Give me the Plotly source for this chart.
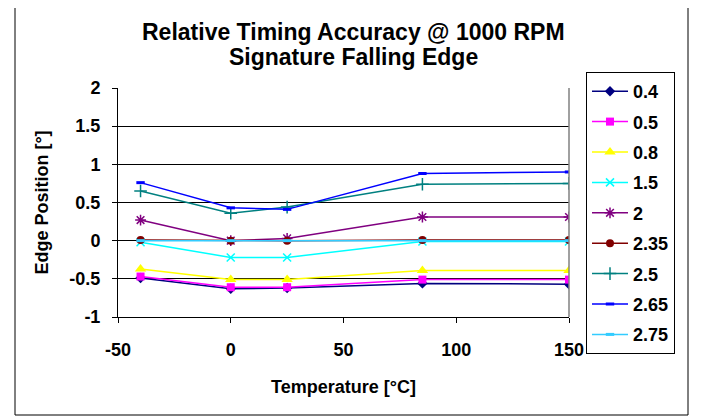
import plotly.graph_objects as go

# temperature points [°C]
temperature = [-40, 0, 25, 85, 150]

# edge position [°] per series
s_0_4 = [-0.49, -0.63, -0.62, -0.56, -0.57]
s_0_5 = [-0.47, -0.61, -0.61, -0.51, -0.51]
s_0_8 = [-0.37, -0.51, -0.51, -0.39, -0.39]
s_1_5 = [-0.02, -0.22, -0.22, -0.01, -0.01]
s_2 = [0.27, 0.0, 0.03, 0.31, 0.31]
s_2_35 = [0.01, 0.0, 0.0, 0.01, 0.01]
s_2_5 = [0.65, 0.36, 0.44, 0.74, 0.75]
s_2_65 = [0.76, 0.43, 0.41, 0.88, 0.90]
s_2_75 = [0.0, 0.0, 0.0, 0.0, 0.0]

names = ["0.4", "0.5", "0.8", "1.5", "2", "2.35", "2.5", "2.65", "2.75"]
values = [s_0_4, s_0_5, s_0_8, s_1_5, s_2, s_2_35, s_2_5, s_2_65, s_2_75]

x_ticks = [-50, 0, 50, 100, 150]
y_ticks = [-1, -0.5, 0, 0.5, 1, 1.5, 2]

title_lines = ["Relative Timing Accuracy @ 1000 RPM", "Signature Falling Edge"]

# (color, symbol, size, marker line width)
styles = [
    ("#000080", "diamond", 8, 0),
    ("#FF00FF", "square", 8, 0),
    ("#FFFF00", "triangle-up", 10, 0),
    ("#00FFFF", "x-thin-open", 8, 1.5),
    ("#800080", "asterisk-open", 9, 1.5),
    ("#800000", "circle", 8, 0),
    ("#008080", "cross-thin-open", 9, 1.5),
    ("#0000FF", "line-ew-open", 6, 3),
    ("#33CCFF", "line-ew-open", 6, 3),
]

font = "Liberation Sans, Arial, sans-serif"

fig = go.Figure()
for name, ys, (color, symbol, size, lw) in zip(names, values, styles):
    fig.add_trace(
        go.Scatter(
            x=temperature,
            y=ys,
            name="<b>" + name + "</b>",
            legendgroup=name,
            mode="lines+markers",
            line=dict(color=color, width=1.5),
            marker=dict(
                symbol=symbol,
                size=size,
                color=color,
                line=dict(color=color, width=lw),
            ),
        )
    )

# two title lines as annotations so the line spacing can be set
for text, ypix in zip(title_lines, [32, 57]):
    fig.add_annotation(
        text="<b>" + text + "</b>",
        xref="paper", yref="paper",
        x=(353 - 118) / 451, y=(317 - ypix) / 229,
        xanchor="center", yanchor="middle",
        showarrow=False,
        font=dict(size=23, color="black", family=font),
    )

# the page body adds an 8px offset, so margins are measured from there
fig.update_layout(
    width=704,
    height=417,
    margin=dict(l=110, r=143, t=80, b=108, autoexpand=False),
    paper_bgcolor="white",
    plot_bgcolor="white",
    font=dict(family=font, size=18, color="black"),
    showlegend=True,
    legend=dict(
        x=(586 - 118) / 451,
        xanchor="left",
        y=(317 - 72) / 229,
        yanchor="top",
        bordercolor="black",
        borderwidth=1,
        bgcolor="white",
        font=dict(size=18, color="black", family=font),
        tracegroupgap=4,
        itemwidth=36,
        maxheight=400,
    ),
    shapes=[
        # outer chart frame
        dict(type="rect", xref="paper", yref="paper",
             x0=(15 - 118) / 451, x1=(688 - 118) / 451,
             y0=(317 - 415) / 229, y1=(317 - 3) / 229,
             line=dict(color="black", width=1)),
        # plot area border right (grey)
        dict(type="line", xref="paper", yref="paper", x0=1, x1=1, y0=0, y1=1,
             line=dict(color="#808080", width=1.5)),
    ],
)

fig.update_xaxes(
    range=[-50, 150],
    tickvals=x_ticks,
    ticktext=["<b>%g</b>" % v for v in x_ticks],
    showgrid=False,
    zeroline=False,
    showline=True,
    linecolor="black",
    linewidth=1,
    ticks="outside",
    ticklen=5,
    tickcolor="black",
    tickfont=dict(size=18),
    ticklabelstandoff=11,
    automargin=False,
    title=dict(text="<b>Temperature [°C]</b>", font=dict(size=18), standoff=21),
)
fig.update_yaxes(
    range=[-1, 2],
    tickvals=y_ticks,
    ticktext=["<b>%g</b>" % v for v in y_ticks],
    showgrid=True,
    gridcolor="black",
    gridwidth=1,
    zeroline=False,
    showline=True,
    linecolor="black",
    linewidth=1,
    ticks="outside",
    ticklen=5,
    tickcolor="black",
    tickfont=dict(size=18),
    ticklabelstandoff=8,
    automargin=False,
    title=dict(text="<b>Edge Position [°]</b>", font=dict(size=18), standoff=16),
)

fig.write_html("out.html")
